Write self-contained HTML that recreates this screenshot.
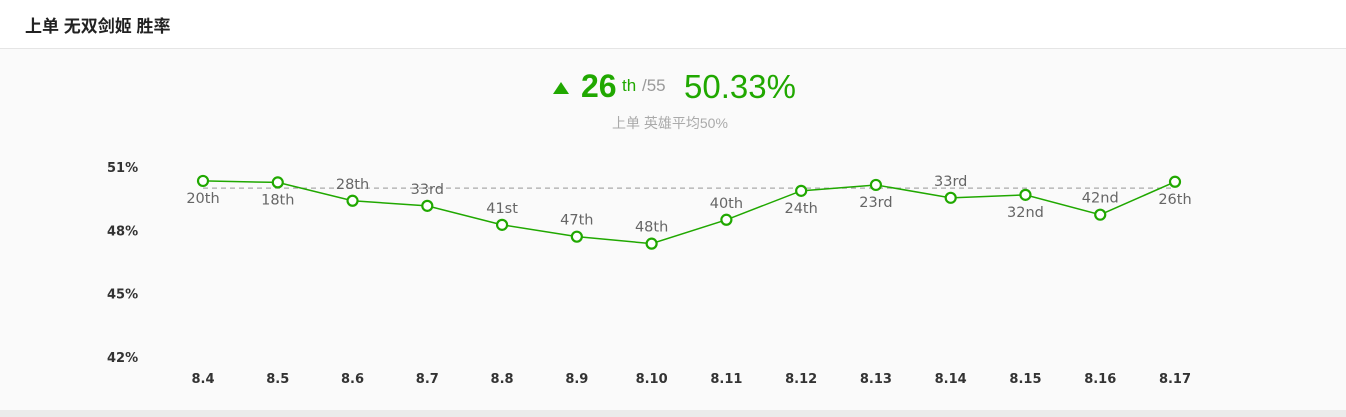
<!DOCTYPE html>
<html><head><meta charset="utf-8">
<style>
body{margin:0;width:1346px;height:417px;overflow:hidden;background:#fafafa;font-family:"Liberation Sans","Noto Sans CJK SC",sans-serif;}
#hdr{position:absolute;left:0;top:0;width:1346px;height:48px;background:#fff;border-bottom:1px solid #e5e5e5;}
#title{position:absolute;left:25px;top:12px;font-size:17px;font-weight:bold;color:#222;}
#bottom{position:absolute;left:0;top:410px;width:1346px;height:7px;background:#ebebeb;}
svg{position:absolute;left:0;top:0;}
</style></head><body>
<div id="hdr"><div id="title">上单 无双剑姬 胜率</div></div>
<svg width="1346" height="417">
<polygon points="553,94 569,94 561,82" fill="#20a800"/>
<text x="581" y="97" font-size="32" font-weight="bold" fill="#20a800" font-family="Liberation Sans">26</text>
<text x="622" y="91" font-size="17" fill="#20a800">th</text>
<text x="642" y="91" font-size="17" fill="#999">/55</text>
<text x="684" y="98" font-size="33" fill="#20a800">50.33%</text>
<text x="612" y="128" font-size="14" fill="#aaa" font-family="Liberation Sans,Noto Sans CJK SC,sans-serif">上单 英雄平均50%</text>
<g id="chart"></g>
</svg>
<div id="bottom"></div>
<script>
const categories=["8.4","8.5","8.6","8.7","8.8","8.9","8.10","8.11","8.12","8.13","8.14","8.15","8.16","8.17"];
const winRates=[50.34,50.27,49.4,49.16,48.26,47.7,47.37,48.5,49.87,50.15,49.54,49.68,48.74,50.3];
const ranks=["20th","18th","28th","33rd","41st","47th","48th","40th","24th","23rd","33rd","32nd","42nd","26th"];
const labelAbove=[0,0,1,1,1,1,1,1,0,0,1,0,1,0];
const yTicks=[51,48,45,42];
const avgLine=50;
const NS="http://www.w3.org/2000/svg";
const g=document.getElementById('chart');
const x=i=>203+i*(1175-203)/(categories.length-1);
const y=v=>167+(51-v)*(357-167)/9;
function mk(t,a,txt){const e=document.createElementNS(NS,t);for(const k in a)e.setAttribute(k,a[k]);if(txt!=null)e.textContent=txt;g.appendChild(e);return e;}
yTicks.forEach(v=>{const e=mk('text',{x:107,y:y(v)+5,'font-size':13,'font-weight':'bold',fill:'#333','font-family':'DejaVu Sans'},v+'%');

});
categories.forEach((c,i)=>{const e=mk('text',{x:x(i),y:383,'font-size':13,'font-weight':'bold',fill:'#333','text-anchor':'middle','font-family':'DejaVu Sans'},c);

});
const al=mk('line',{x1:x(0),x2:x(categories.length-1),y1:y(avgLine),y2:y(avgLine),stroke:'#aaa','stroke-dasharray':'5,4','stroke-width':1.3});


const pl=mk('polyline',{points:winRates.map((v,i)=>x(i)+','+y(v)).join(' '),fill:'none',stroke:'#20a800','stroke-width':1.5});


winRates.forEach((v,i)=>{
const c=mk('circle',{cx:x(i),cy:y(v),r:5,fill:'#fff',stroke:'#20a800','stroke-width':2.2});


const t=mk('text',{x:x(i),y:labelAbove[i]?y(v)-12:y(v)+22,'font-size':14.5,fill:'#666','text-anchor':'middle','font-family':'DejaVu Sans'},ranks[i]);


});
</script>
</body></html>
